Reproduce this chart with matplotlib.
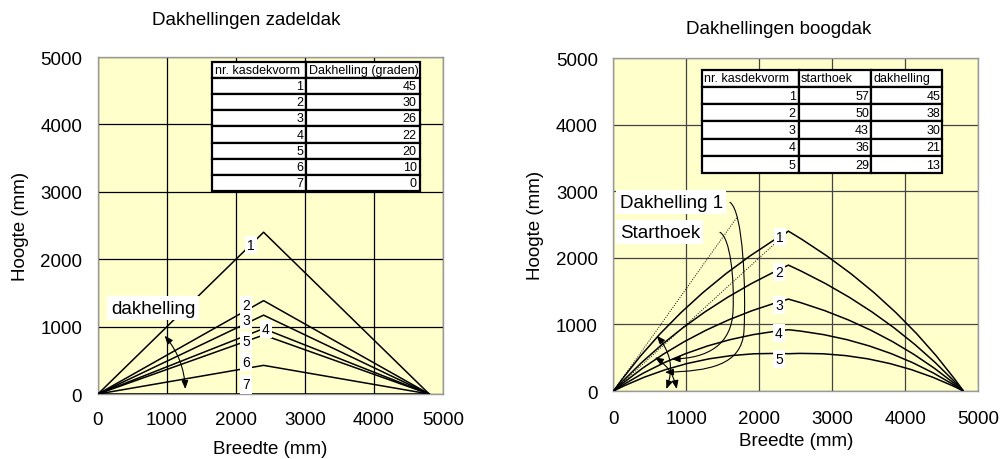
import numpy as np
import matplotlib.pyplot as plt
from matplotlib.path import Path
from matplotlib.patches import PathPatch, FancyArrowPatch

plt.rcParams['font.family'] = ['Liberation Sans', 'DejaVu Sans']

# zadeldak
kasdek_zadel = [1, 2, 3, 4, 5, 6, 7]
helling_zadel = [45, 30, 26, 22, 20, 10, 0]
nok_zadel = [2400, 1385, 1170, 970, 875, 425, 0]   # nokhoogte (mm)
lab_zadel_x = [2213, 2145, 2145, 2430, 2145, 2145, 2145]
lab_zadel_y = [2211, 1320, 1098, 964, 779, 482, 141]

# boogdak
kasdek_boog = [1, 2, 3, 4, 5]
starthoek_boog = [57, 50, 43, 36, 29]
helling_boog = [45, 38, 30, 21, 13]
nok_boog = [2400, 1890, 1380, 920, 560]
lab_boog_x = [2284, 2270, 2270, 2270, 2270]
lab_boog_y = [2308, 1782, 1296, 871, 480]

nok_x = 2400     # halve kasbreedte
breedte = 4800
ticks = [0, 1000, 2000, 3000, 4000, 5000]

geel = '#FFFFCC'
fs = 13.5


def opmaak(ax, gridkleur, xpad, ypad):
    ax.set_facecolor(geel)
    ax.set_xlim(0, 5000)
    ax.set_ylim(0, 5000)
    ax.set_xticks(ticks)
    ax.set_yticks(ticks)
    ax.grid(True, color=gridkleur, lw=0.9)
    ax.set_axisbelow(True)
    for s in ax.spines.values():
        s.set_color('#999999')
        s.set_linewidth(1.0)
    ax.tick_params(axis='x', length=0, labelsize=fs, pad=xpad)
    ax.tick_params(axis='y', length=0, labelsize=fs, pad=ypad)


def tabel(ax, rijen, kop, bbox, colw):
    t = ax.table(cellText=rijen, colLabels=kop, colWidths=colw, bbox=bbox,
                 cellLoc='right', colLoc='left')
    t.auto_set_font_size(False)
    t.set_fontsize(9)
    for (r, c), cell in t.get_celld().items():
        cell.set_linewidth(1.6)
        cell.set_edgecolor('black')
        cell.set_facecolor('white')
        cell.PAD = 0.03
    t.set_zorder(10)
    return t


fig = plt.figure(figsize=(10.07, 4.6), dpi=100)
ax1 = fig.add_axes([0.0973, 0.1413, 0.3426, 0.7326])
ax2 = fig.add_axes([0.6092, 0.1478, 0.3620, 0.7239])

# ---------------- zadeldak ----------------
opmaak(ax1, 'black', 12.3, 11.5)
for h in nok_zadel:
    ax1.plot([0, nok_x, breedte], [0, h, 0], color='black', lw=1.1, zorder=3)
for n, x, y in zip(kasdek_zadel, lab_zadel_x, lab_zadel_y):
    ax1.text(x, y, str(n), fontsize=10, ha='center', va='center', zorder=6,
             bbox=dict(fc='white', ec='none', pad=1.5))
ax1.text(797, 1276, 'dakhelling', fontsize=fs, ha='center', va='center', zorder=6,
         bbox=dict(fc='white', ec='none', pad=2.5))
ax1.annotate('', xy=(1265, 74), xytext=(966, 865),
             arrowprops=dict(arrowstyle='<|-|>,head_length=0.5,head_width=0.2',
                             connectionstyle='arc3,rad=-0.17', shrinkA=0, shrinkB=0,
                             lw=0.8, color='black'), zorder=5)
tabel(ax1, [[str(k), str(d)] for k, d in zip(kasdek_zadel, helling_zadel)],
      ['nr. kasdekvorm', 'Dakhelling (graden)'],
      [0.3296, 0.6033, 0.6038, 0.381], [0.453, 0.547])
ax1.set_xlabel('Breedte (mm)', fontsize=fs)
ax1.set_ylabel('Hoogte (mm)', fontsize=fs)
ax1.xaxis.set_label_coords(0.5, -0.163)
ax1.xaxis.label.set_verticalalignment('center')
ax1.yaxis.set_label_coords(-0.226, 0.5)
ax1.yaxis.label.set_verticalalignment('center')

# ---------------- boogdak ----------------
opmaak(ax2, '#444444', 13.6, 11.2)
for a_deg, b_deg, h in zip(starthoek_boog, helling_boog, nok_boog):
    a = np.radians(a_deg)
    b = np.radians(b_deg)
    c = np.hypot(nok_x, h)
    d = c / 2 / np.cos(a - b)
    p1 = (d * np.cos(a), d * np.sin(a))
    verts = [(0, 0), p1, (nok_x, h), (breedte - p1[0], p1[1]), (breedte, 0)]
    codes = [Path.MOVETO, Path.CURVE3, Path.CURVE3, Path.CURVE3, Path.CURVE3]
    ax2.add_patch(PathPatch(Path(verts, codes), fill=False, ec='black', lw=1.1, zorder=3))

# hulplijnen voor kasdekvorm 1
ax2.plot([0, nok_x], [0, nok_boog[0]], color='black', lw=0.7, ls=(0, (1, 1.5)), zorder=3)
hk = np.radians(starthoek_boog[0])
ax2.plot([0, 1690], [0, 1690 * np.tan(hk)], color='black', lw=0.7, ls=(0, (1, 1.5)), zorder=3)

for n, x, y in zip(kasdek_boog, lab_boog_x, lab_boog_y):
    ax2.text(x, y, str(n), fontsize=10, ha='center', va='center', zorder=6,
             bbox=dict(fc='white', ec='none', pad=1.5))

ax2.text(85, 2838, 'Dakhelling 1', fontsize=fs, ha='left', va='center', zorder=6,
         bbox=dict(fc='white', ec='none', pad=2.5))
ax2.text(85, 2387, 'Starthoek', fontsize=fs, ha='left', va='center', zorder=6,
         bbox=dict(fc='white', ec='none', pad=2.5))

# hoekbogen
pijl = '<|-|>,head_length=0.5,head_width=0.2'
ax2.annotate('', xy=(725, 30), xytext=(593, 830),
             arrowprops=dict(arrowstyle=pijl, connectionstyle='arc3,rad=-0.3',
                             shrinkA=0, shrinkB=0, lw=0.8, color='black'), zorder=5)
ax2.annotate('', xy=(867, 30), xytext=(569, 506),
             arrowprops=dict(arrowstyle=pijl, connectionstyle='arc3,rad=-0.22',
                             shrinkA=0, shrinkB=0, lw=0.8, color='black'), zorder=5)

# verwijslijnen van de teksten naar de bogen
C4 = Path.CURVE4
haak_dak = Path([(1598, 2833), (1780, 2700), (1820, 1500), (1790, 900),
                 (1760, 380), (1300, 300), (706, 281)],
                [Path.MOVETO, C4, C4, C4, C4, C4, C4])
haak_start = Path([(1461, 2383), (1600, 2300), (1660, 1700), (1640, 1200),
                   (1620, 700), (1300, 490), (798, 480)],
                  [Path.MOVETO, C4, C4, C4, C4, C4, C4])
for p in (haak_dak, haak_start):
    ax2.add_patch(FancyArrowPatch(path=p, arrowstyle='-|>,head_length=0.5,head_width=0.2',
                                  mutation_scale=10, lw=0.8, color='black', zorder=5))

tabel(ax2, [[str(k), str(s), str(d)] for k, s, d in zip(kasdek_boog, starthoek_boog, helling_boog)],
      ['nr. kasdekvorm', 'starthoek', 'dakhelling'],
      [0.2416, 0.654, 0.661, 0.311], [0.403, 0.301, 0.296])
ax2.set_xlabel('Breedte (mm)', fontsize=fs)
ax2.set_ylabel('Hoogte (mm)', fontsize=fs)
ax2.xaxis.set_label_coords(0.5, -0.149)
ax2.xaxis.label.set_verticalalignment('center')
ax2.yaxis.set_label_coords(-0.215, 0.5)
ax2.yaxis.label.set_verticalalignment('center')

fig.text(0.2443, 0.955, 'Dakhellingen zadeldak', fontsize=fs, ha='center', va='center')
fig.text(0.7736, 0.935, 'Dakhellingen boogdak', fontsize=fs, ha='center', va='center')

fig.savefig('out.png', dpi=100)
